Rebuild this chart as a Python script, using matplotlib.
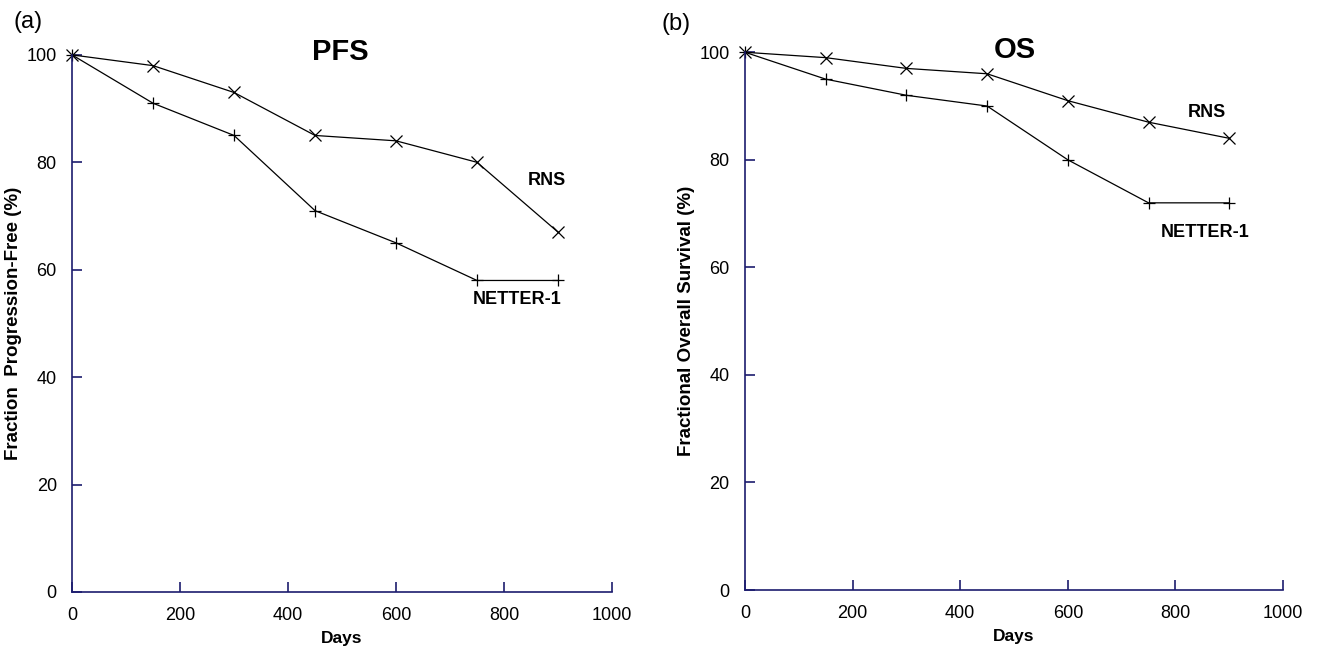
import matplotlib
matplotlib.use('Agg')
import matplotlib.pyplot as plt

plt.rcParams['font.family'] = ['Liberation Sans', 'DejaVu Sans']

days = [0, 150, 300, 450, 600, 750, 900]
pfs_rns = [100, 98, 93, 85, 84, 80, 67]
pfs_netter = [100, 91, 85, 71, 65, 58, 58]
os_rns = [100, 99, 97, 96, 91, 87, 84]
os_netter = [100, 95, 92, 90, 80, 72, 72]

AXIS_COLOR = '#1c1c6e'

fig = plt.figure(figsize=(13.17, 6.55), dpi=100)
ax1 = fig.add_axes([0.0547, 0.0962, 0.410, 0.820])
ax2 = fig.add_axes([0.5657, 0.0992, 0.4085, 0.821])


def style(ax, ylabel):
    for s in ('top', 'right'):
        ax.spines[s].set_visible(False)
    for s in ('left', 'bottom'):
        ax.spines[s].set_color(AXIS_COLOR)
        ax.spines[s].set_linewidth(1.2)
    ax.set_xlim(0, 1000)
    ax.set_ylim(0, 100)
    ax.set_xticks(range(0, 1001, 200))
    ax.set_yticks(range(0, 101, 20))
    ax.tick_params(direction='in', length=7, width=1.2, color=AXIS_COLOR,
                   labelsize=13, pad=11)
    ax.set_xlabel('Days', fontsize=12.5, fontweight='bold', labelpad=5)
    ax.set_ylabel(ylabel, fontsize=13.5, fontweight='bold', labelpad=3)


def curves(ax, rns, netter):
    ax.plot(days, rns, color='black', lw=0.9, marker='x', ms=8, mew=0.9, clip_on=False)
    ax.plot(days, netter, color='black', lw=0.9, marker='+', ms=9, mew=0.9, clip_on=False)


curves(ax1, pfs_rns, pfs_netter)
style(ax1, 'Fraction  Progression-Free (%)')
ax1.text(496, 100.6, 'PFS', ha='center', va='center', fontsize=21, fontweight='bold')
ax1.text(880, 76.7, 'RNS', ha='center', va='center', fontsize=13, fontweight='bold')
ax1.text(824, 54.4, 'NETTER-1', ha='center', va='center', fontsize=13, fontweight='bold')

curves(ax2, os_rns, os_netter)
style(ax2, 'Fractional Overall Survival (%)')
ax2.text(502, 100.4, 'OS', ha='center', va='center', fontsize=21, fontweight='bold')
ax2.text(859, 88.8, 'RNS', ha='center', va='center', fontsize=13, fontweight='bold')
ax2.text(855, 66.5, 'NETTER-1', ha='center', va='center', fontsize=13, fontweight='bold')

fig.text(28 / 1317, 1 - 22 / 655, '(a)', ha='center', va='center', fontsize=17)
fig.text(676 / 1317, 1 - 24 / 655, '(b)', ha='center', va='center', fontsize=17)

fig.savefig('out.png', dpi=100)
